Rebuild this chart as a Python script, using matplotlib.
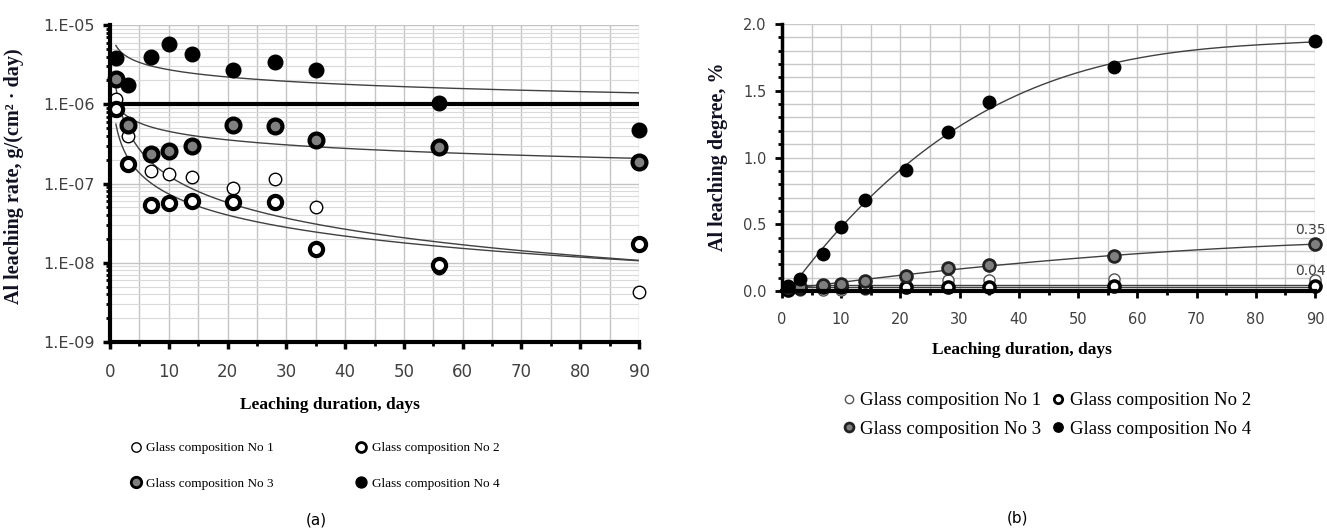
import numpy as np
import matplotlib
matplotlib.use('Agg')
import matplotlib.pyplot as plt
from matplotlib.lines import Line2D
from matplotlib.ticker import LogLocator, MultipleLocator, FixedFormatter, FixedLocator, NullFormatter, FormatStrFormatter

W, H = 1327, 532

days = [1, 3, 7, 10, 14, 21, 28, 35, 56, 90]
names = ['Glass composition No 1', 'Glass composition No 2',
         'Glass composition No 3', 'Glass composition No 4']

# (a) leaching rate, g/(cm2 day)
rate_1 = [1.15e-6, 4.0e-7, 1.45e-7, 1.32e-7, 1.2e-7, 8.9e-8, 1.13e-7, 5.0e-8, 8.7e-9, 4.3e-9]
rate_2 = [8.7e-7, 1.74e-7, 5.4e-8, 5.7e-8, 6.0e-8, 5.9e-8, 5.9e-8, 1.5e-8, 9.3e-9, 1.7e-8]
rate_3 = [2.1e-6, 5.4e-7, 2.33e-7, 2.6e-7, 3.0e-7, 5.4e-7, 5.3e-7, 3.5e-7, 2.9e-7, 1.86e-7]
rate_4 = [3.8e-6, 1.75e-6, 4.0e-6, 5.7e-6, 4.3e-6, 2.7e-6, 3.4e-6, 2.7e-6, 1.03e-6, 4.8e-7]
rate_limit = 1e-6
rate_ticks = [1e-9, 1e-8, 1e-7, 1e-6, 1e-5]
rate_ticklabels = ['1.E-09', '1.E-08', '1.E-07', '1.E-06', '1.E-05']

# (b) leaching degree, %
degree_1 = [0.01, 0.01, 0.01, 0.01, 0.015, 0.03, 0.08, 0.08, 0.09, 0.08]
degree_2 = [0.01, 0.02, 0.03, 0.03, 0.03, 0.03, 0.03, 0.03, 0.04, 0.04]
degree_3 = [0.03, 0.03, 0.045, 0.05, 0.075, 0.115, 0.17, 0.195, 0.265, 0.35]
degree_4 = [0.04, 0.09, 0.28, 0.48, 0.68, 0.905, 1.19, 1.415, 1.68, 1.87]
degree_fit_order = [0, 0, 2, 3]
degree_labelled = [1, 2]  # series index (0-based) with a value label at 90 days

serif = 'Liberation Serif'
tickfont = 'DejaVu Sans'
tickcol = '#404040'

style_a = [dict(mfc='white', mec='black', mew=1.0, ms=9),
           dict(mfc='white', mec='black', mew=3.0, ms=9.5),
           dict(mfc='#808080', mec='black', mew=3.0, ms=10),
           dict(mfc='black', mec='black', mew=1.0, ms=10.5)]
style_b = [dict(mfc='white', mec='#555555', mew=1.0, ms=8),
           dict(mfc='white', mec='black', mew=2.5, ms=8),
           dict(mfc='#7f7f7f', mec='#222222', mew=2.0, ms=8.5),
           dict(mfc='black', mec='black', mew=1.0, ms=9)]


def fx(x):
    return x / W


def fy(y):
    return 1 - y / H


def legend_handles(styles, scale):
    hs = []
    for st in styles:
        st = dict(st, ms=st['ms'] * scale, mew=min(st['mew'], 2.0))
        hs.append(Line2D([], [], ls='none', marker='o', **st))
    return hs


fig = plt.figure(figsize=(W / 100, H / 100), dpi=100)

# ---------- (a) ----------
ax1 = fig.add_axes([fx(110), fy(342), (639 - 110) / W, (342 - 25) / H])
ax1.set_yscale('log')
rates = [rate_1, rate_2, rate_3, rate_4]
t = np.linspace(1, 90, 300)
for r in rates:
    c = np.polyfit(np.log10(days), np.log10(r), 1)
    ax1.plot(t, 10 ** np.polyval(c, np.log10(t)), color='#404040', lw=1, zorder=3)
ax1.axhline(rate_limit, color='black', lw=3, zorder=3.5)
for r, st in zip(rates, style_a):
    ax1.plot(days, r, ls='none', marker='o', zorder=4, clip_on=False, **st)

ax1.set_xlim(0, 90)
ax1.set_ylim(1e-9, 1e-5)
ax1.xaxis.set_major_locator(MultipleLocator(10))
ax1.xaxis.set_minor_locator(MultipleLocator(5))
ax1.yaxis.set_major_locator(FixedLocator(rate_ticks))
ax1.yaxis.set_major_formatter(FixedFormatter(rate_ticklabels))
ax1.yaxis.set_minor_locator(LogLocator(base=10, subs=np.arange(2, 10), numticks=20))
ax1.yaxis.set_minor_formatter(NullFormatter())
ax1.grid(which='major', color='#c4c4c4', lw=1)
ax1.grid(which='minor', axis='x', color='#c4c4c4', lw=1)
ax1.grid(which='minor', axis='y', color='#dadada', lw=0.8)
ax1.set_axisbelow(True)
for s in ['top', 'right']:
    ax1.spines[s].set_visible(False)
for s in ['left', 'bottom']:
    ax1.spines[s].set_linewidth(3)
    ax1.spines[s].set_zorder(5)
ax1.tick_params(which='major', direction='out', length=5, width=2.5, pad=6,
                labelsize=11.5, labelcolor=tickcol)
ax1.tick_params(axis='x', which='major', pad=10, labelsize=12)
ax1.tick_params(which='minor', direction='out', length=3, width=2)
for lab in ax1.get_xticklabels() + ax1.get_yticklabels():
    lab.set_fontfamily(tickfont)

fig.text(fx(14), fy(176), 'Al leaching rate, g/(cm² · day)', rotation=90,
         ha='center', va='center', family=serif, weight='bold', size=14.5, color='#111122')
fig.text(fx(330), fy(405), 'Leaching duration, days', ha='center', va='center',
         family=serif, weight='bold', size=12.5)
fig.text(fx(316), fy(520), '(a)', ha='center', va='center', family='DejaVu Sans', size=11)

order = [0, 2, 1, 3]
h_a = legend_handles(style_a, 0.75)
fig.legend([h_a[i] for i in order], [names[i] for i in order], ncol=2, loc='center',
           bbox_to_anchor=(fx(315), fy(466)), frameon=False,
           prop=dict(family=serif, size=9.5), handlelength=0.8, handletextpad=0.4,
           columnspacing=6.2, labelspacing=1.8)

# ---------- (b) ----------
ax2 = fig.add_axes([fx(782), fy(291), (1315 - 782) / W, (291 - 24) / H])
degrees = [degree_1, degree_2, degree_3, degree_4]
for d, k in zip(degrees, degree_fit_order):
    c = np.polyfit(days, d, k)
    ax2.plot(t, np.polyval(c, t), color='#404040', lw=1, zorder=3)
for d, st in zip(degrees, style_b):
    ax2.plot(days, d, ls='none', marker='o', zorder=4, clip_on=False, **st)
for i in degree_labelled:
    ax2.annotate('%.2f' % degrees[i][-1], (days[-1], degrees[i][-1]), xytext=(7.5, 10.5),
                 textcoords='offset points', ha='right', va='center',
                 family=tickfont, size=10, color=tickcol, annotation_clip=False)

ax2.set_xlim(0, 90)
ax2.set_ylim(0, 2)
ax2.xaxis.set_major_locator(MultipleLocator(10))
ax2.xaxis.set_minor_locator(MultipleLocator(5))
ax2.yaxis.set_major_locator(MultipleLocator(0.5))
ax2.yaxis.set_minor_locator(MultipleLocator(0.1))
ax2.yaxis.set_major_formatter(FormatStrFormatter('%.1f'))
ax2.grid(which='both', color='#c8c8c8', lw=1)
ax2.set_axisbelow(True)
for s in ['top', 'right']:
    ax2.spines[s].set_visible(False)
ax2.spines['left'].set_linewidth(2.5)
ax2.spines['bottom'].set_linewidth(3)
for s in ['left', 'bottom']:
    ax2.spines[s].set_zorder(5)
ax2.tick_params(which='major', direction='out', length=5, width=2, pad=6,
                labelsize=10.5, labelcolor=tickcol)
ax2.tick_params(axis='x', which='major', pad=10)
ax2.tick_params(which='minor', direction='out', length=3, width=2)
for lab in ax2.get_xticklabels() + ax2.get_yticklabels():
    lab.set_fontfamily(tickfont)

fig.text(fx(718), fy(157), 'Al leaching degree, %', rotation=90, ha='center', va='center',
         family=serif, weight='bold', size=14.5, color='#111122')
fig.text(fx(1022), fy(350), 'Leaching duration, days', ha='center', va='center',
         family=serif, weight='bold', size=12.5)
fig.text(fx(1018), fy(518), '(b)', ha='center', va='center', family='DejaVu Sans', size=11)

h_b = legend_handles(style_b, 0.75)
fig.legend([h_b[i] for i in order], [names[i] for i in order], ncol=2, loc='center',
           bbox_to_anchor=(fx(1047), fy(415)), frameon=False,
           prop=dict(family=serif, size=13.5), handlelength=0.6, handletextpad=0.3,
           columnspacing=0.6, labelspacing=0.6)

fig.savefig('out.png', dpi=100)
